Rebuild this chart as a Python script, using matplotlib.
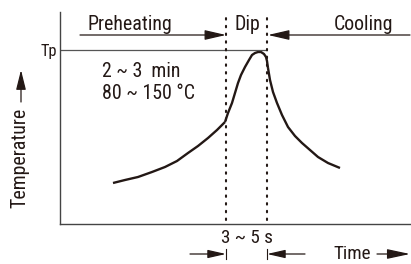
import matplotlib
matplotlib.use("Agg")
import matplotlib.pyplot as plt
from matplotlib import font_manager

# ---- data (time / temperature in arbitrary units) ----
preheat_t = [53, 65, 78, 92, 105, 117, 128, 138, 148, 157, 165]
preheat_T = [41, 44, 47, 52, 57, 63, 71, 78, 86, 94, 102]
dip_t = [165, 168, 172, 175, 178, 181, 185, 189, 192, 195, 198, 201, 204, 206, 207, 208]
dip_T = [102, 111, 121, 131, 141, 149, 157, 164, 169, 171, 172, 172, 170, 167, 163, 156]
cool_t = [208, 210, 213, 217, 222, 228, 235, 242, 250, 258, 268, 280]
cool_T = [156, 144, 132, 121, 109, 97, 88, 81, 74, 67, 61, 56]
tp_value = 174
dip_start, dip_end = 166, 207
x_max, y_max = 351, 212

labels = {
    "pre": "Preheating", "dip": "Dip", "cool": "Cooling", "tp": "Tp",
    "l1": "2 ~ 3  min", "l2": "80 ~ 150 °C", "temp": "Temperature",
    "dur": "3 ~ 5 s", "time": "Time",
}

# pick a narrow sans if one is installed
names = {f.name for f in font_manager.fontManager.ttflist}
stretch = 'normal'
family = ['Liberation Sans', 'DejaVu Sans']
for cand in ['Liberation Sans Narrow', 'Roboto Condensed', 'Open Sans Condensed',
             'DejaVu Sans Condensed']:
    if cand in names:
        family = [cand, 'DejaVu Sans']
        break
plt.rcParams['font.family'] = family

ink = '#231815'
axc = '#444444'

fig = plt.figure(figsize=(4.11, 2.64), dpi=100)
ax = fig.add_axes([60 / 411, 40 / 264, 351 / 411, 212 / 264])
ax.set_xlim(0, x_max)
ax.set_ylim(0, y_max)
for s in ['top', 'right']:
    ax.spines[s].set_visible(False)
for s in ['left', 'bottom']:
    ax.spines[s].set_color(axc)
    ax.spines[s].set_linewidth(1.0)
ax.set_xticks([])
ax.set_yticks([])

# scale fonts so "Preheating" is ~84 px wide, as in the reference
renderer = fig.canvas.get_renderer()
probe = fig.text(0, 0, labels["pre"], fontsize=14.5)
w = probe.get_window_extent(renderer).width
probe.remove()
k = min(1.0, 84.0 / w)


def F(size):
    return size * k


# curve
kw = dict(color=ink, lw=1.7, solid_capstyle='butt', solid_joinstyle='round')
ax.plot(preheat_t, preheat_T, **kw)
ax.plot(dip_t, dip_T, **kw)
ax.plot(cool_t, cool_T, **kw)

# Tp line
ax.plot([0, dip_end - 2], [tp_value, tp_value], color='#555555', lw=0.9)

# dotted dip boundaries
for xv in (dip_start, dip_end):
    ax.plot([xv, xv], [4, y_max - 3], color=ink, lw=1.5,
            linestyle=(0, (0.7, 3.0)), dash_capstyle='round')


def arrow(x0, y0, x1, y1, hl=1.3, hw=0.3):
    ax.annotate('', xy=(x1, y1), xytext=(x0, y0), annotation_clip=False,
                arrowprops=dict(arrowstyle=f'-|>,head_length={hl},head_width={hw}',
                                color=ink, lw=0.9, shrinkA=0, shrinkB=0,
                                mutation_scale=10))


# phase arrows
arrow(20, 189, dip_start, 189)
arrow(x_max - 1, 189, dip_end + 1, 189)

ax.text(70, 194, labels["pre"], ha='center', va='baseline', fontsize=F(14.5), color=ink)
ax.text(187, 194, labels["dip"], ha='center', va='baseline', fontsize=F(14.5), color=ink)
ax.text(303, 194, labels["cool"], ha='center', va='baseline', fontsize=F(14.5), color=ink)
ax.text(-3, 168, labels["tp"], ha='right', va='baseline', fontsize=F(12), color=ink)
ax.text(42, 147, labels["l1"], ha='left', va='baseline', fontsize=F(14.5), color=ink)
ax.text(42, 125, labels["l2"], ha='left', va='baseline', fontsize=F(14.5), color=ink)

# y label with arrow
ax.text(-40, 66, labels["temp"], rotation=90, ha='center', va='center',
        fontsize=F(14.5), color=ink, clip_on=False)
arrow(-39, 122, -39, 154, hl=1.2, hw=0.3)

# bottom annotations
ax.text(187, -19, labels["dur"], ha='center', va='baseline', fontsize=F(14), color=ink)
arrow(130, -30, dip_start, -30, hl=1.1, hw=0.25)
arrow(245, -30, dip_end, -30, hl=1.1, hw=0.25)
for xv in (dip_start, dip_end):
    ax.plot([xv, xv], [-25, -35], color=ink, lw=0.8, clip_on=False)
ax.text(273, -35, labels["time"], ha='left', va='baseline', fontsize=F(14), color=ink)
arrow(317, -30, x_max - 1, -30, hl=1.4, hw=0.3)

fig.savefig('out.png', dpi=100)
